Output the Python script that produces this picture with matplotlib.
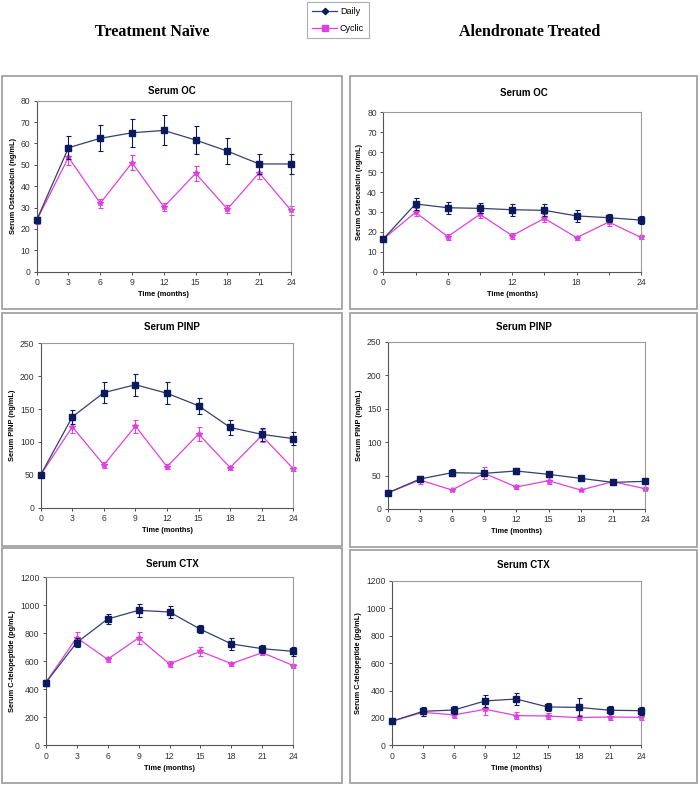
import matplotlib
matplotlib.use("Agg")
import matplotlib.pyplot as plt
from matplotlib.lines import Line2D
from matplotlib.patches import Rectangle

plt.rcParams['font.family'] = ['Liberation Sans', 'DejaVu Sans']

months = [0, 3, 6, 9, 12, 15, 18, 21, 24]

# Serum OC (ng/mL)
oc_naive_daily = [24.2, 58, 62.4, 65, 66.1, 61.6, 56.4, 50.4, 50.4]
oc_naive_daily_err = [1.5, 5.5, 6, 6.5, 7, 6.5, 6, 4.5, 4.5]
oc_naive_cyclic = [24, 53.5, 32, 51, 30.3, 46, 29.3, 46.3, 28.7]
oc_naive_cyclic_err = [1.5, 3.5, 2, 3.5, 2, 3.5, 2, 3, 2]
oc_alen_daily = [16.4, 34, 32.1, 31.8, 31.1, 30.8, 28, 27.1, 25.9]
oc_alen_daily_err = [1, 3, 3, 2.5, 3, 3, 3, 2, 2]
oc_alen_cyclic = [16.4, 29.8, 17.6, 28.8, 18.1, 26.8, 17.1, 24.9, 17.2]
oc_alen_cyclic_err = [1, 2, 1.5, 2, 1.5, 2, 1, 2, 1]

# Serum PINP (ng/mL)
pinp_naive_daily = [50, 138, 175, 187, 174, 155, 122, 111.6, 105]
pinp_naive_daily_err = [3, 11, 16, 17, 17, 12, 11, 10, 9.5]
pinp_naive_cyclic = [50, 123, 65, 124, 62.4, 112, 61, 109.5, 59.3]
pinp_naive_cyclic_err = [3, 10, 4, 10, 4, 10, 3, 10, 3]
pinp_alen_daily = [24, 44.8, 54.3, 53.3, 56.8, 51.8, 45.8, 39.8, 41.3]
pinp_alen_daily_err = [2, 3, 5, 4, 5, 3, 3, 2, 2]
pinp_alen_cyclic = [24, 43.3, 28.4, 53.3, 32.9, 42.3, 28.4, 40.8, 30.4]
pinp_alen_cyclic_err = [2, 6, 2, 9, 3, 5, 2, 3, 2]

# Serum CTX (pg/mL)
ctx_naive_daily = [447, 733, 902, 964, 952, 829, 724, 690, 671]
ctx_naive_daily_err = [20, 30, 35, 45, 45, 30, 40, 30, 30]
ctx_naive_cyclic = [447, 769, 614, 767, 581, 671, 583, 662, 569]
ctx_naive_cyclic_err = [20, 40, 20, 40, 20, 30, 15, 20, 15]
ctx_alen_daily = [175, 248, 258, 324, 338, 280, 277, 256, 253]
ctx_alen_daily_err = [15, 35, 30, 45, 45, 30, 65, 30, 30]
ctx_alen_cyclic = [175, 241, 222, 263, 217, 214, 202, 207, 204]
ctx_alen_cyclic_err = [15, 30, 20, 45, 25, 25, 20, 20, 20]

navy = '#0a1a5c'
navy_line = '#34406e'
magenta = '#e040e0'

fig = plt.figure(figsize=(7, 7.85), dpi=100)
W, H = 700.0, 785.0


def box(x0, y0, x1, y1, title, ty):
    fig.patches.append(Rectangle((x0 / W, 1 - y1 / H), (x1 - x0) / W, (y1 - y0) / H,
                                 transform=fig.transFigure, fill=False,
                                 edgecolor='#9a9a9a', linewidth=1.2))
    fig.text((x0 + x1) / 2 / W, 1 - ty / H, title, fontsize=7, fontweight='bold',
             ha='center', va='center')


def unclip(cont):
    for a in cont.lines[1] + cont.lines[2] + (cont.lines[0],):
        a.set_clip_on(False)


def panel(px, ylabel, ymax, ystep, daily, derr, cyc, cerr, xstep):
    x0, x1, ytop, ybot = px
    ax = fig.add_axes([x0 / W, 1 - ybot / H, (x1 - x0) / W, (ybot - ytop) / H])
    c1 = ax.errorbar(months, daily, yerr=derr, color=navy_line, ecolor=navy, marker='s',
                     markersize=3.8, markerfacecolor=navy, markeredgecolor=navy,
                     linewidth=0.9, elinewidth=0.8, capsize=1.8, capthick=0.8, zorder=3)
    c2 = ax.errorbar(months, cyc, yerr=cerr, color=magenta, ecolor=magenta, marker='*',
                     markersize=4.2, linewidth=0.9, elinewidth=0.8, capsize=1.8,
                     capthick=0.8, zorder=2)
    unclip(c1)
    unclip(c2)
    ax.set_xlim(0, 24)
    ax.set_ylim(0, ymax)
    ax.set_xticks(range(0, 25, xstep))
    ax.set_xticks(months, minor=True)
    ax.set_yticks(range(0, ymax + 1, ystep))
    ax.tick_params(axis='both', which='both', labelsize=6.2, length=2.5, width=0.6,
                   colors='#333333', pad=2)
    for s in ['top', 'right']:
        ax.spines[s].set_color('#9a9a9a')
        ax.spines[s].set_linewidth(0.8)
    for s in ['left', 'bottom']:
        ax.spines[s].set_color('#555555')
        ax.spines[s].set_linewidth(0.8)
    ax.set_ylabel(ylabel, fontsize=5.3, fontweight='bold', labelpad=3)
    ax.set_xlabel('Time (months)', fontsize=5.3, fontweight='bold', labelpad=3)
    return ax


# panel frames with titles
box(2, 76, 342, 309, 'Serum OC', 91)
box(350, 76, 697, 309, 'Serum OC', 93)
box(2, 313, 342, 546, 'Serum PINP', 327)
box(350, 313, 697, 547, 'Serum PINP', 327)
box(2, 548, 342, 783, 'Serum CTX', 564)
box(350, 550, 697, 783, 'Serum CTX', 565)

panel((36.7, 291, 100.7, 271.7), 'Serum Osteocalcin (ng/mL)', 80, 10,
      oc_naive_daily, oc_naive_daily_err, oc_naive_cyclic, oc_naive_cyclic_err, 3)
panel((383.3, 641, 112.3, 271.7), 'Serum Osteocalcin (ng/mL)', 80, 10,
      oc_alen_daily, oc_alen_daily_err, oc_alen_cyclic, oc_alen_cyclic_err, 6)
panel((40.7, 293.3, 343.3, 507.7), 'Serum PINP (ng/mL)', 250, 50,
      pinp_naive_daily, pinp_naive_daily_err, pinp_naive_cyclic, pinp_naive_cyclic_err, 3)
panel((387.7, 645, 341.7, 509), 'Serum PINP (ng/mL)', 250, 50,
      pinp_alen_daily, pinp_alen_daily_err, pinp_alen_cyclic, pinp_alen_cyclic_err, 3)
panel((45.7, 293.3, 577.3, 745.3), 'Serum C-telopeptide (pg/mL)', 1200, 200,
      ctx_naive_daily, ctx_naive_daily_err, ctx_naive_cyclic, ctx_naive_cyclic_err, 3)
panel((391.7, 641, 581, 745.3), 'Serum C-telopeptide (pg/mL)', 1200, 200,
      ctx_alen_daily, ctx_alen_daily_err, ctx_alen_cyclic, ctx_alen_cyclic_err, 3)

# column headings
fig.text(152 / W, 1 - 32 / H, 'Treatment Naïve', family='Liberation Serif',
         fontsize=11.5, fontweight='bold', ha='center', va='center')
fig.text(530 / W, 1 - 32 / H, 'Alendronate Treated', family='Liberation Serif',
         fontsize=11.5, fontweight='bold', ha='center', va='center')

# legend
handles = [Line2D([], [], color=navy_line, marker='D', markersize=3.2,
                  markerfacecolor=navy, markeredgecolor=navy, linewidth=0.9),
           Line2D([], [], color=magenta, marker='s', markersize=3.8, linewidth=0.9)]
leg = fig.legend(handles, ['Daily', 'Cyclic'], loc='center',
                 bbox_to_anchor=(338 / W, 1 - 20 / H), fontsize=6.5, frameon=True,
                 fancybox=False, edgecolor='#9a9a9a', handlelength=2.8,
                 borderpad=0.6, labelspacing=0.9, handletextpad=0.3)
leg.get_frame().set_linewidth(0.8)

fig.savefig('out.png', dpi=100)
